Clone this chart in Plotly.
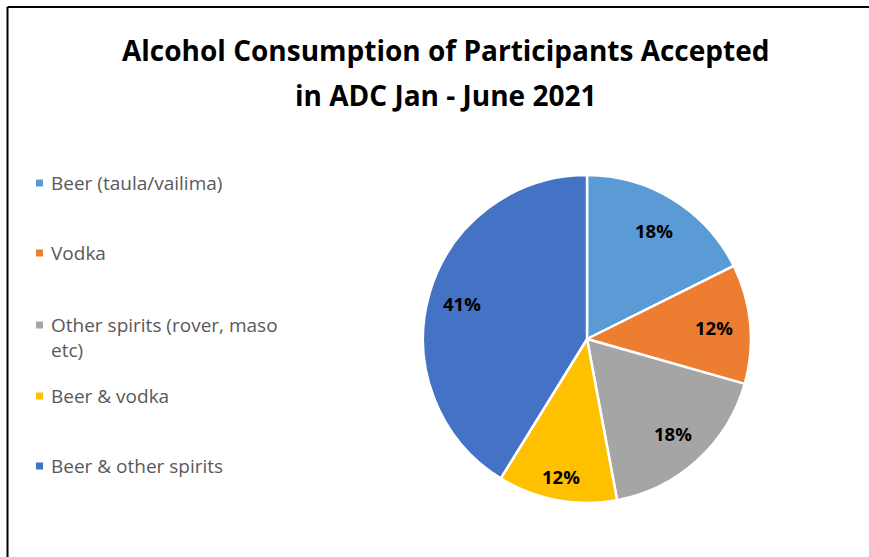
import math
import plotly.graph_objects as go

# Drink categories and participant counts
categories = [
    "Beer (taula/vailima)",
    "Vodka",
    "Other spirits (rover, maso etc)",
    "Beer & vodka",
    "Beer & other spirits",
]
legend_labels = [
    "Beer (taula/vailima)",
    "Vodka",
    "Other spirits (rover, maso<br>etc)",
    "Beer & vodka",
    "Beer & other spirits",
]
counts = [3, 2, 3, 2, 7]
colors = ["#5B9BD5", "#ED7D31", "#A5A5A5", "#FFC000", "#4472C4"]
title_lines = ["Alcohol Consumption of Participants Accepted", "in ADC Jan - June 2021"]

W, H = 869, 557

# Pie placement (pixels) -> paper domain
cx, cy, R = 587, 339, 164
dom_x = [(cx - R) / W, (cx + R) / W]
dom_y = [(H - cy - R) / H, (H - cy + R) / H]

fig = go.Figure()
fig.add_trace(go.Pie(
    labels=categories,
    values=counts,
    sort=False,
    direction="clockwise",
    rotation=0,
    marker=dict(colors=colors, line=dict(color="white", width=2.5)),
    textinfo="none",
    hoverinfo="label+percent",
    domain=dict(x=dom_x, y=dom_y),
    showlegend=False,
))

annotations = []
shapes = []

# Percentage labels placed along each slice's mid-angle
label_radius = [0.78, 0.78, 0.78, 0.85, 0.79]
total = sum(counts)
cum = 0
for v, fr in zip(counts, label_radius):
    mid = (cum + v / 2) / total * 2 * math.pi
    cum += v
    px = cx + fr * R * math.sin(mid)
    py = cy - fr * R * math.cos(mid)
    annotations.append(dict(
        x=px / W, y=(H - py) / H, xref="paper", yref="paper",
        text=f"<b>{round(v / total * 100)}%</b>", showarrow=False,
        font=dict(family="Open Sans", size=18.5, color="#000000"),
        xanchor="center", yanchor="middle",
    ))

# Legend column on the left
legend_font = 19
legend_y = [183, 253, 325, 396, 466]
for lab, col, ly in zip(legend_labels, colors, legend_y):
    shapes.append(dict(
        type="rect", xref="paper", yref="paper",
        x0=36 / W, x1=43 / W, y0=(H - ly - 3.5) / H, y1=(H - ly + 3.5) / H,
        fillcolor=col, line=dict(width=0),
    ))
    annotations.append(dict(
        x=49 / W, y=(H - ly + 0.78 * legend_font) / H, xref="paper", yref="paper",
        text=lab, showarrow=False, align="left",
        font=dict(family="Open Sans", size=legend_font, color="#595959"),
        xanchor="left", yanchor="top",
    ))

# Two-line chart title
for line, ty in zip(title_lines, [50, 95]):
    annotations.append(dict(
        x=445 / W, y=(H - ty) / H, xref="paper", yref="paper",
        text=f"<b>{line}</b>", showarrow=False,
        font=dict(family="Open Sans", size=28, color="#000000"),
        xanchor="center", yanchor="middle",
    ))

# Chart frame (top and left edges)
shapes.append(dict(type="line", xref="paper", yref="paper",
                   x0=7.5 / W, x1=1, y0=(H - 7) / H, y1=(H - 7) / H,
                   line=dict(color="black", width=2)))
shapes.append(dict(type="line", xref="paper", yref="paper",
                   x0=7.5 / W, x1=7.5 / W, y0=0, y1=(H - 7) / H,
                   line=dict(color="black", width=2)))

fig.update_layout(
    width=W, height=H,
    margin=dict(l=0, r=0, t=0, b=0),
    paper_bgcolor="white",
    plot_bgcolor="white",
    annotations=annotations,
    shapes=shapes,
)

fig.write_html("out.html")
